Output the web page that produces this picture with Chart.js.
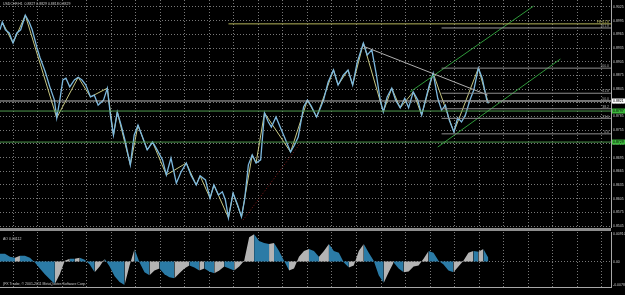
<!DOCTYPE html>
<html>
<head>
<meta charset="utf-8">
<script src="https://cdn.jsdelivr.net/npm/chart.js@4/dist/chart.umd.min.js"></script>
<style>
    body { margin: 0; background: #000; width: 625px; height: 295px; overflow: hidden; position: relative; }
    #main { position: absolute; left: 0; top: 0; width: 625px; height: 228px; }
    #sep { position: absolute; left: 0; top: 228px; width: 611px; height: 3px; background: #8c8c8c; }
    #ao { position: absolute; left: 0; top: 231px; width: 625px; height: 64px; }
</style>
</head>
<body>
<div id="main"><canvas id="priceChart"></canvas></div>
<div id="sep"></div>
<div id="ao"><canvas id="aoChart"></canvas></div>
<script>
// time axis: hours (H1 bars) since 19 Apr 2011, one label every 32 bars
const timeLabels = ["19 Apr 2011", "20 Apr 08:00", "21 Apr 00:00", "22 Apr 16:00", "26 Apr 00:00", "27 Apr 00:00",
    "28 Apr 16:00", "2 May 00:00", "3 May 00:00", "4 May 16:00", "6 May 00:00", "9 May 00:00", "10 May 16:00",
    "12 May 00:00", "13 May 00:00", "16 May 16:00", "18 May 00:00", "19 May 00:00", "20 May 16:00", "24 May 00:00"];
const hoursPerLabel = 32;
const hourMax = 797;

const priceTicks = [0.9025, 0.8995, 0.8965, 0.8935, 0.8905, 0.8875, 0.8845, 0.8815, 0.8785, 0.8755,
    0.8725, 0.8695, 0.8665, 0.8635, 0.8605, 0.8575, 0.8545];
const priceMin = 0.85407;
const priceMax = 0.90403;

// [bar, price]
const pricePath = [[0, 0.8975], [3, 0.8992], [7, 0.8975], [12, 0.8968], [17, 0.8946], [22, 0.8968], [27, 0.8975],
    [33, 0.9007], [38, 0.8992], [42, 0.8975], [48, 0.8937], [52, 0.8915], [59, 0.8883], [65, 0.8850], [71, 0.8821],
    [74, 0.8782], [78, 0.8821], [82, 0.8865], [86, 0.8869], [91, 0.8850], [97, 0.8865], [102, 0.8871], [107, 0.8865],
    [112, 0.8854], [118, 0.8828], [123, 0.8832], [128, 0.8810], [135, 0.8821], [140, 0.8847], [144, 0.8788],
    [148, 0.8744], [153, 0.8795], [158, 0.8766], [163, 0.8733], [170, 0.8679], [175, 0.8744], [180, 0.8766],
    [185, 0.8744], [192, 0.8712], [199, 0.8729], [205, 0.8712], [212, 0.8690], [217, 0.8657], [223, 0.8694],
    [230, 0.8639], [236, 0.8663], [243, 0.8683], [249, 0.8657], [256, 0.8635], [261, 0.8655], [268, 0.8646],
    [274, 0.8606], [279, 0.8635], [285, 0.8613], [290, 0.8620], [294, 0.8602], [298, 0.8563], [304, 0.8617],
    [310, 0.8591], [315, 0.8565], [319, 0.8602], [324, 0.8679], [329, 0.8701], [334, 0.8683], [340, 0.8690],
    [345, 0.8793], [350, 0.8773], [354, 0.8762], [360, 0.8784], [366, 0.8760], [371, 0.8740], [379, 0.8707],
    [384, 0.8722], [389, 0.8740], [396, 0.8806], [401, 0.8821], [406, 0.8808], [413, 0.8784], [418, 0.8804],
    [422, 0.8821], [428, 0.8860], [435, 0.8887], [441, 0.8854], [448, 0.8876], [454, 0.8887], [460, 0.8854],
    [466, 0.8904], [474, 0.8946], [479, 0.8920], [485, 0.8931], [491, 0.8876], [496, 0.8821], [500, 0.8795],
    [505, 0.8828], [511, 0.8847], [516, 0.8821], [522, 0.8804], [528, 0.8825], [533, 0.8804], [539, 0.8839],
    [545, 0.8821], [550, 0.8788], [555, 0.8821], [560, 0.8854], [565, 0.8880], [571, 0.8825], [576, 0.8799],
    [581, 0.8810], [586, 0.8777], [592, 0.8751], [597, 0.8782], [602, 0.8773], [607, 0.8788], [613, 0.8821],
    [618, 0.8843], [624, 0.8891], [629, 0.8869], [635, 0.8821], [637, 0.8814]];

// zigzag swing points
const zigzag = [[3, 0.8992], [17, 0.8946], [33, 0.9007], [74, 0.8782], [102, 0.8871], [118, 0.8828], [140, 0.8847],
    [148, 0.8744], [153, 0.8795], [170, 0.8679], [180, 0.8766], [192, 0.8712], [199, 0.8729], [217, 0.8657],
    [243, 0.8683], [256, 0.8635], [261, 0.8655], [274, 0.8606], [279, 0.8635], [298, 0.8563], [304, 0.8617],
    [315, 0.8565], [329, 0.8701], [334, 0.8683], [345, 0.8793], [379, 0.8707], [401, 0.8821], [413, 0.8784],
    [435, 0.8887], [441, 0.8854], [454, 0.8887], [460, 0.8854], [474, 0.8946], [500, 0.8795], [511, 0.8847],
    [522, 0.8804], [539, 0.8839], [550, 0.8788], [565, 0.8880], [592, 0.8751], [624, 0.8891], [637, 0.8814]];

// fibo retracement drawn from the 20 May low to the 23 May high
const fiboLow = 0.8747;
const fiboHigh = 0.8891;
const fiboLevels = [0, 23.6, 38.2, 50, 61.8, 100];
const fiboStart = 576;

const levelLines = [
    { text: "FE 61.8", price: 0.8988, from: 298, color: "#b4b45a" },
    { text: "161.8", price: 0.8979, from: 576, color: "#9a9a9a" }
];
const fullLines = [
    { price: 0.8819, color: "#b8b8b8", box: "0.8821", boxColor: "#ffffff" },
    { price: 0.8797, color: "#4f9a4f", box: "0.8797", boxColor: "#3cb83c" },
    { price: 0.8729, color: "#4f9a4f", box: "0.8729", boxColor: "#3cb83c" }
];
const trendLines = [
    { from: [474, 0.8939], to: [636, 0.8832], color: "#b0b0b0", dash: [] },
    { from: [535, 0.8839], to: [696, 0.9027], color: "#2f9a3a", dash: [] },
    { from: [571, 0.8718], to: [731, 0.8911], color: "#2f9a3a", dash: [] },
    { from: [317, 0.8558], to: [392, 0.8727], color: "#8a1c1c", dash: [1, 2] }
];

// Awesome Oscillator, one value every 6.5 bars
const aoStep = 6.5;
const aoValues = [0.0024, 0.0024, 0.0015, 0.0012, 0.0018, 0.0018, 0.0012, -0.0003, -0.0021, -0.0039,
    -0.0054, -0.0069, -0.0039, 0.0003, 0.0009, 0.0009, 0.0012, 0.0006, -0.0009, -0.0033,
    -0.0015, 0.0009, -0.0015, -0.0045, -0.0063, -0.0072, -0.0012, 0.0039, -0.0003, -0.0033,
    -0.0042, -0.0027, -0.0021, -0.0039, -0.0048, -0.0051, -0.0036, -0.0021, -0.0012, -0.0018,
    -0.0027, -0.0021, -0.0030, -0.0036, -0.0027, -0.0015, -0.0021, -0.0027, -0.0015, 0.0003,
    0.0075, 0.0084, 0.0063, 0.0057, 0.0054, 0.0057, 0.0033, 0.0003, -0.0027, -0.0021,
    0.0015, 0.0033, 0.0039, 0.0033, 0.0015, 0.0033, 0.0054, 0.0033, 0.0027, -0.0003,
    -0.0018, -0.0012, 0.0033, 0.0054, 0.0027, 0.0003, -0.0042, -0.0066, -0.0033, -0.0003,
    -0.0021, -0.0033, -0.0030, -0.0015, -0.0012, 0.0009, 0.0033, 0.0027, 0.0003, -0.0009,
    -0.0027, -0.0033, -0.0015, 0.0003, 0.0027, 0.0033, 0.0030, 0.0039, 0.0012];
const aoMax = 0.0091;
const aoMin = -0.0078;

const gridColor = "rgba(160,160,160,0.75)";
const textColor = "#c8c8c8";
const tinyFont = "3.5px Arial";
const aoUp = "#b4b4b4";
const aoDown = "#2b7ba6";

Chart.defaults.font.family = "Arial";

function gridTicks() {
    const ticks = [];
    for (let h = 17; h < hourMax; h += hoursPerLabel) ticks.push({ value: h });
    return ticks;
}

function toPoints(list) {
    return list.map(p => ({ x: p[0], y: p[1] }));
}

function flatLine(price, from, color, width) {
    return {
        data: [{ x: from, y: price }, { x: hourMax, y: price }],
        borderColor: color, borderWidth: width || 1, pointRadius: 0
    };
}

const datasets = [];
fiboLevels.forEach(l => {
    datasets.push(flatLine(fiboLow + (fiboHigh - fiboLow) * l / 100, fiboStart, "#8e8e8e"));
});
levelLines.forEach(l => datasets.push(flatLine(l.price, l.from, l.color)));
fullLines.forEach(l => datasets.push(flatLine(l.price, 0, l.color)));
trendLines.forEach(t => {
    datasets.push({
        data: [{ x: t.from[0], y: t.from[1] }, { x: t.to[0], y: t.to[1] }],
        borderColor: t.color, borderWidth: 1, borderDash: t.dash, pointRadius: 0
    });
});
datasets.push({ data: toPoints(pricePath), borderColor: "#7cb8de", borderWidth: 1.3, pointRadius: 0 });
datasets.push({ data: toPoints(zigzag), borderColor: "#dcdc8e", borderWidth: 0.9, pointRadius: 0 });

const priceLabels = {
    id: "priceLabels",
    afterDatasetsDraw(chart) {
        const { ctx, chartArea, scales } = chart;
        const y = scales.y;
        ctx.save();
        ctx.font = tinyFont;
        ctx.textBaseline = "top";
        ctx.fillStyle = textColor;
        ctx.fillText("USDCHF,H1  0.8827 0.8829 0.8818 0.8829", 3, 2);

        ctx.textAlign = "right";
        ctx.textBaseline = "bottom";
        fiboLevels.forEach(l => {
            const py = y.getPixelForValue(fiboLow + (fiboHigh - fiboLow) * l / 100);
            ctx.fillStyle = "#a8a8a8";
            ctx.fillText(l.toFixed(1), chartArea.right - 2, py);
        });
        levelLines.forEach(l => {
            ctx.fillStyle = l.color;
            ctx.fillText(l.text, chartArea.right - 2, y.getPixelForValue(l.price));
        });

        ctx.textAlign = "left";
        ctx.textBaseline = "middle";
        fullLines.forEach(l => {
            const py = y.getPixelForValue(l.price);
            ctx.fillStyle = l.boxColor;
            ctx.fillRect(chartArea.right + 1, py - 2.5, 14, 5);
            ctx.fillStyle = "#000";
            ctx.fillText(l.box, chartArea.right + 2, py);
        });
        ctx.restore();
    }
};

new Chart(document.getElementById("priceChart"), {
    type: "line",
    data: { datasets: datasets },
    options: {
        responsive: true,
        maintainAspectRatio: false,
        animation: false,
        layout: { padding: 0 },
        plugins: { legend: { display: false }, tooltip: { enabled: false } },
        scales: {
            x: {
                type: "linear", min: 0, max: hourMax,
                afterBuildTicks: s => { s.ticks = gridTicks(); },
                afterFit: s => { s.height = 0; },
                ticks: { display: false },
                grid: { color: gridColor, drawTicks: false },
                border: { display: false, dash: [1, 2] }
            },
            y: {
                position: "right", min: priceMin, max: priceMax,
                afterBuildTicks: s => { s.ticks = priceTicks.map(v => ({ value: v })); },
                afterFit: s => { s.width = 14; s.paddingTop = 0; s.paddingBottom = 0; },
                ticks: { color: textColor, font: { size: 3.5 }, padding: 2, callback: v => v.toFixed(4) },
                grid: { color: gridColor, drawTicks: false },
                border: { display: true, color: "#a8a8a8", dash: [1, 2] }
            }
        }
    },
    plugins: [priceLabels]
});

const aoLabels = {
    id: "aoLabels",
    afterDatasetsDraw(chart) {
        const { ctx, chartArea, scales } = chart;
        const y = scales.y;
        ctx.save();
        ctx.font = tinyFont;
        ctx.fillStyle = textColor;
        ctx.textBaseline = "top";
        ctx.fillText("AO 0.00112", 3, chartArea.top + 5);
        ctx.textBaseline = "bottom";
        ctx.fillText("(FX Trader, \u00a9 2001-2011 MetaQuotes Software Corp.", 3, chartArea.bottom - 1);
        ctx.textBaseline = "top";
        ctx.fillText(aoMax.toFixed(5), chartArea.right + 2, y.getPixelForValue(aoMax));
        ctx.textBaseline = "middle";
        ctx.fillText("0.00", chartArea.right + 2, y.getPixelForValue(0));
        ctx.textBaseline = "bottom";
        ctx.fillText(aoMin.toFixed(4), chartArea.right + 2, y.getPixelForValue(aoMin));
        ctx.restore();
    }
};

new Chart(document.getElementById("aoChart"), {
    type: "line",
    data: {
        datasets: [{
            data: aoValues.map((v, i) => ({ x: i * aoStep, y: v })),
            borderColor: "rgba(0,0,0,0)",
            borderWidth: 0,
            pointRadius: 0,
            fill: "origin",
            backgroundColor: aoDown,
            segment: {
                backgroundColor: c => c.p1.parsed.y > c.p0.parsed.y ? aoUp : aoDown
            }
        }]
    },
    options: {
        responsive: true,
        maintainAspectRatio: false,
        animation: false,
        layout: { padding: { top: 1, left: 0, right: 0, bottom: 0 } },
        plugins: { legend: { display: false }, tooltip: { enabled: false } },
        scales: {
            x: {
                type: "linear", min: 0, max: hourMax,
                afterBuildTicks: s => { s.ticks = timeLabels.map((t, k) => ({ value: k * hoursPerLabel + 1 })); },
                afterFit: s => { s.height = 8; s.paddingLeft = 0; s.paddingRight = 0; },
                ticks: {
                    color: textColor, font: { size: 3.5 }, align: "start", maxRotation: 0, autoSkip: false, padding: 1,
                    callback: (v, i) => timeLabels[i]
                },
                grid: { display: false },
                border: { display: true, color: "#a8a8a8" }
            },
            xg: {
                type: "linear", position: "bottom", min: 0, max: hourMax,
                afterBuildTicks: s => { s.ticks = gridTicks(); },
                afterFit: s => { s.height = 0; },
                ticks: { display: false },
                grid: { color: gridColor, drawTicks: false },
                border: { display: false, dash: [1, 2] }
            },
            y: {
                position: "right", min: aoMin, max: aoMax,
                afterBuildTicks: s => { s.ticks = [{ value: 0 }]; },
                afterFit: s => { s.width = 14; s.paddingTop = 0; s.paddingBottom = 0; },
                ticks: { display: false },
                grid: { color: gridColor, drawTicks: false },
                border: { display: true, color: "#a8a8a8", dash: [1, 2] }
            }
        }
    },
    plugins: [aoLabels]
});
</script>
</body>
</html>
